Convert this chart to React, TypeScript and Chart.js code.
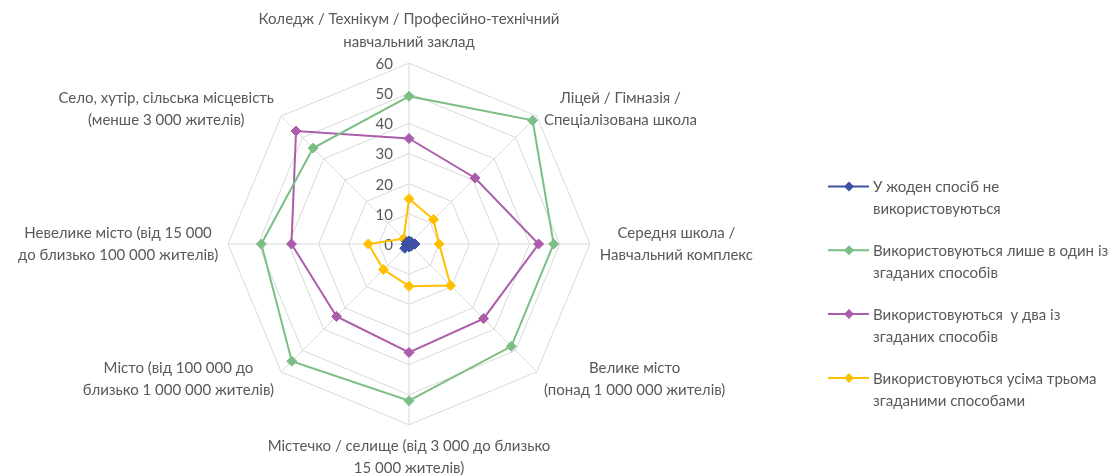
import React, { useEffect, useRef } from "react";
import { Chart, registerables } from "chart.js";

Chart.register(...registerables);

const categories: string[][] = [
  ["Коледж / Технікум / Професійно-технічний", "навчальний заклад"],
  ["Ліцей / Гімназія /", "Спеціалізована школа"],
  ["Середня школа /", "Навчальний комплекс"],
  ["Велике місто", "(понад 1 000 000 жителів)"],
  ["Містечко / селище (від 3 000 до близько", "15 000 жителів)"],
  ["Місто (від 100 000 до", "близько 1 000 000 жителів)"],
  ["Невелике місто (від 15 000", "до близько 100 000 жителів)"],
  ["Село, хутір, сільська місцевість", "(менше 3 000 жителів)"],
];

const seriesNone = [1, 1, 2, 1, 1, 2, 1, 1];
const seriesOne = [49, 58, 48, 48, 52, 55, 49, 45];
const seriesTwo = [35, 31, 43, 35, 36, 34, 39, 53];
const seriesThree = [15, 11.5, 10, 19.5, 14, 12, 13.5, 2.5];

const legendLabels: string[][] = [
  ["У жоден спосіб не", "використовуються"],
  ["Використовуються лише в один із", "згаданих способів"],
  ["Використовуються  у два із", "згаданих способів"],
  ["Використовуються усіма трьома", "згаданими способами"],
];

const colors = ["#3F51A5", "#7BBE86", "#AB5CAA", "#FFC000"];
const TEXT = "#595959";
const FONT = "Lato";
const LABEL_PAD = 10;

const pointLabelPatch = {
  id: "pointLabelPatch",
  beforeDraw(chart: any) {
    const s = chart.scales.r;
    const items = s && s._pointLabelItems;
    if (!items) return;
    items.forEach((it: any, i: number) => {
      const h = it.bottom - it.top;
      const w = it.right - it.left;
      const p = s.getPointPosition(i, s.drawingArea + LABEL_PAD);
      let deg = Math.round((s.getIndexAngle(i) * 180) / Math.PI) % 360;
      if (deg < 0) deg += 360;
      let top: number;
      if (deg === 0) top = p.y - h;
      else if (deg === 180) top = p.y;
      else top = p.y - h / 2;
      let left: number;
      if (deg === 0 || deg === 180) left = p.x - w / 2;
      else if (deg < 180) left = p.x;
      else left = p.x - w;
      it.top = top;
      it.bottom = top + h;
      it.y = top;
      it.left = left;
      it.right = left + w;
      it.x = left + w / 2;
      it.textAlign = "center";
    });
  },
};

const tickLabels = {
  id: "tickLabels",
  beforeDatasetsDraw(chart: any) {
    const s = chart.scales.r;
    const ctx = chart.ctx;
    ctx.save();
    ctx.font = `15px ${FONT}`;
    ctx.fillStyle = TEXT;
    ctx.textAlign = "right";
    ctx.textBaseline = "middle";
    s.ticks.forEach((t: any) => {
      const y = s.yCenter - s.getDistanceFromCenterForValue(t.value);
      ctx.fillText(String(t.value), s.xCenter - 16, y + 1);
    });
    ctx.restore();
  },
};

const customLegend = {
  id: "customLegend",
  afterDraw(chart: any) {
    const ctx = chart.ctx;
    ctx.save();
    chart.data.datasets.forEach((ds: any, i: number) => {
      const y = 186.5 + i * 63.8;
      ctx.strokeStyle = ds.borderColor;
      ctx.lineWidth = 2;
      ctx.beginPath();
      ctx.moveTo(828, y);
      ctx.lineTo(869, y);
      ctx.stroke();
      ctx.fillStyle = ds.borderColor;
      ctx.beginPath();
      const r = 5;
      ctx.moveTo(849, y - r);
      ctx.lineTo(849 + r, y);
      ctx.lineTo(849, y + r);
      ctx.lineTo(849 - r, y);
      ctx.closePath();
      ctx.fill();
      ctx.font = `15px ${FONT}`;
      ctx.fillStyle = TEXT;
      ctx.textAlign = "left";
      ctx.textBaseline = "middle";
      legendLabels[i].forEach((line, k) => {
        ctx.fillText(line, 873, y + 1 + k * 22);
      });
    });
    ctx.restore();
  },
};

export default function App() {
  const ref = useRef<HTMLCanvasElement | null>(null);
  useEffect(() => {
    if (!ref.current) return;
    Chart.defaults.font.family = FONT;
    Chart.defaults.color = TEXT;
    const mk = (label: string, data: number[], c: string) => ({
      label,
      data,
      borderColor: c,
      backgroundColor: c,
      pointBackgroundColor: c,
      pointBorderColor: c,
      pointStyle: "rectRot" as const,
      pointRadius: 5,
      pointBorderWidth: 1,
      borderWidth: 2,
      fill: false,
    });
    const chart = new Chart(ref.current, {
      type: "radar",
      data: {
        labels: categories,
        datasets: [
          mk(legendLabels[0].join(" "), seriesNone, colors[0]),
          mk(legendLabels[1].join(" "), seriesOne, colors[1]),
          mk(legendLabels[2].join(" "), seriesTwo, colors[2]),
          mk(legendLabels[3].join(" "), seriesThree, colors[3]),
        ],
      },
      options: {
        animation: false,
        responsive: true,
        maintainAspectRatio: false,
        layout: { padding: { top: 13, bottom: 0, left: 0, right: 343 } },
        plugins: { legend: { display: false }, tooltip: { enabled: false } },
        scales: {
          r: {
            min: 0,
            max: 60,
            ticks: { stepSize: 10, display: false },
            grid: { color: "#D9D9D9", lineWidth: 1 },
            angleLines: { color: "#D9D9D9", lineWidth: 1 },
            pointLabels: {
              padding: 5,
              color: TEXT,
              font: { family: FONT, size: 15, lineHeight: 1.5 },
            },
          },
        },
      },
      plugins: [pointLabelPatch, tickLabels, customLegend],
    });
    return () => chart.destroy();
  }, []);
  return (
    <div style={{ position: "fixed", left: 0, top: 0, width: "100vw", height: "100vh" }}>
      <canvas ref={ref} />
    </div>
  );
}
